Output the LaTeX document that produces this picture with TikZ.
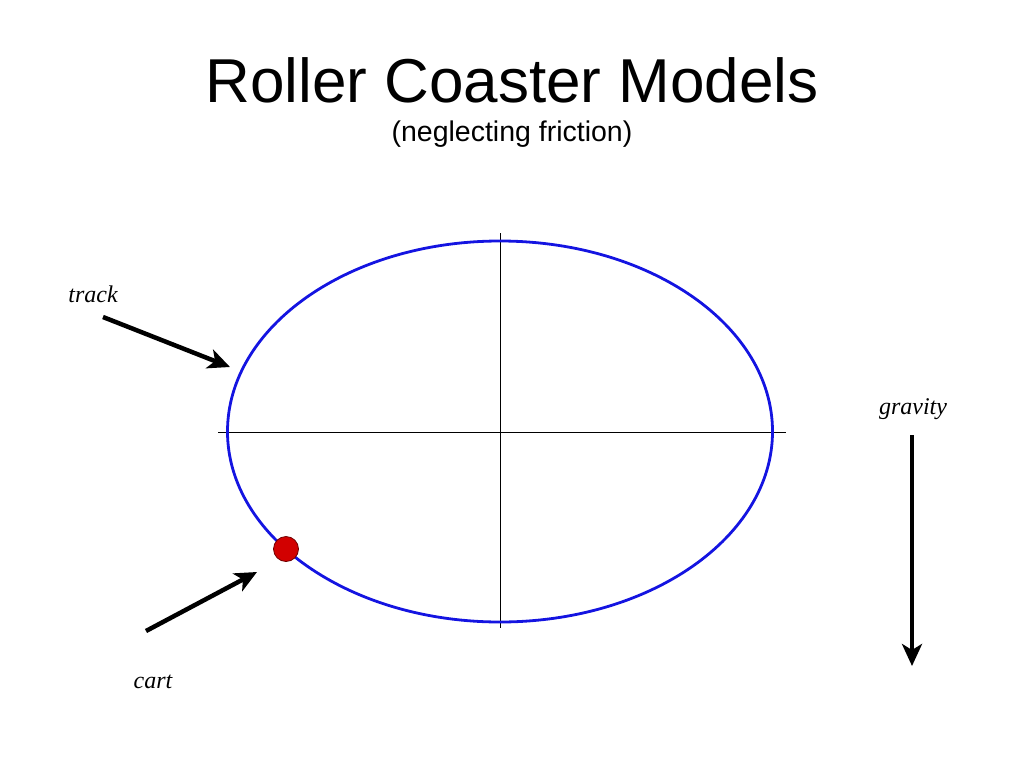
\documentclass[tikz,border=0pt]{standalone}
\usepackage{fontspec}
\setmainfont{Liberation Serif}
\newfontfamily\headfont{Liberation Sans}
\usetikzlibrary{arrows.meta}

\begin{document}
\begin{tikzpicture}[x=1pt,y=-1pt,
    pointer/.style={line width=4.5pt,-{Stealth[length=22pt,width=20pt,inset=6pt]}},
    tag/.style={font=\fontsize{24}{28}\selectfont\itshape,anchor=base}]

    \useasboundingbox (0,0) rectangle (1024,768);

    % title
    \node[font=\headfont\fontsize{62}{70}\selectfont] (title) at (512,80) {Roller Coaster Models};
    \node[font=\headfont\fontsize{28.5}{32}\selectfont] (subtitle) at (512,134) {(neglecting friction)};

    % axes
    \coordinate (xl) at (218,432);
    \coordinate (xr) at (786,432);
    \coordinate (yt) at (500,233);
    \coordinate (yb) at (500,628);
    \draw[line width=1pt](xl) to (xr);
    \draw[line width=1pt](yt) to (yb);

    % track
    \coordinate (centre) at (500,431.5);
    \draw[line width=2.8pt,draw={rgb,255:red,20;green,20;blue,225}](centre) ellipse [x radius=272.5,y radius=190.5];

    % cart
    \node[circle,minimum size=25pt,inner sep=0pt,fill={rgb,255:red,210;green,0;blue,0},draw={rgb,255:red,110;green,0;blue,0},line width=0.8pt] (cart) at (286,549) {};

    % track label
    \node[tag] (track) at (93,302) {track};
    \coordinate (trackfrom) at (103,317);
    \coordinate (trackto) at (230,367);
    \draw[pointer](trackfrom) to (trackto);

    % cart label
    \node[tag] (cartlabel) at (153,688) {cart};
    \coordinate (cartfrom) at (146,631);
    \coordinate (cartto) at (257,572);
    \draw[pointer](cartfrom) to (cartto);

    % gravity
    \node[tag] (gravity) at (913,414) {gravity};
    \coordinate (gravfrom) at (912,435);
    \coordinate (gravto) at (912,666);
    \draw[pointer](gravfrom) to (gravto);

\end{tikzpicture}
\end{document}
